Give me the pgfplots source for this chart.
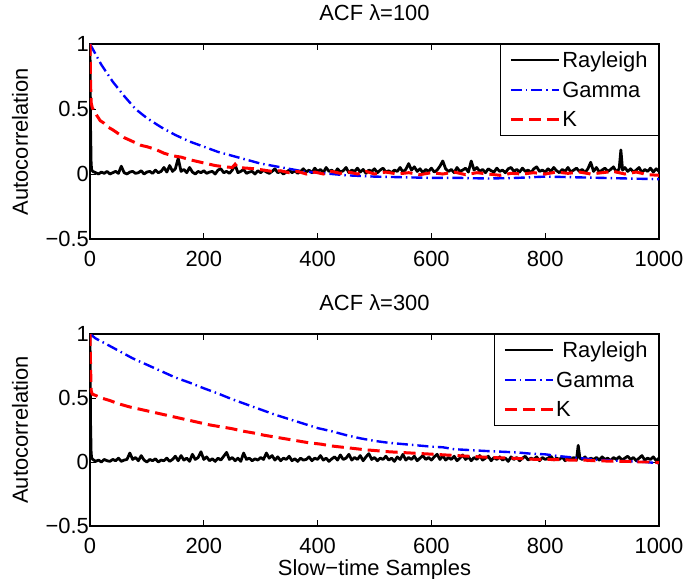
\documentclass[border=0pt]{standalone}
\usepackage{pgfplots}
\pgfplotsset{compat=1.18}
\usepackage{fontspec}
\setmainfont{Liberation Sans}
\newcommand{\myfontsz}{\fontsize{22}{26}\selectfont}
\pgfplotsset{
  acf/.style={
    scale only axis, width=569bp, height=195bp,
    xmin=0, xmax=1000, ymin=-0.5, ymax=1,
    xtick={0,200,400,600,800,1000},
    xticklabels={0,200,400,600,800,1000},
    ytick={-0.5,0,0.5,1},
    yticklabels={−0.5,0,0.5,1},
    tick align=inside, major tick length=6bp,
    axis line style={line width=1.2pt}, tick style={line width=0.8pt, black},
    tick label style={font=\myfontsz},
    xticklabel style={inner sep=1bp, yshift=-11bp},
    yticklabel style={inner sep=1bp},
    label style={font=\myfontsz},
    title style={font=\myfontsz, at={(axis description cs:0.5,1)}, anchor=base, yshift=18bp},
    ylabel={Autocorrelation},
    ylabel style={at={(axis description cs:-0.123,0.5)}, anchor=center},
    legend style={at={(1,1)}, anchor=north east, font=\myfontsz, draw=black, line width=0.8pt,
      legend cell align=left, row sep=9bp, inner xsep=9bp, inner ysep=5bp},
    legend image code/.code={\draw[#1] (0bp,0bp) -- (48bp,0bp);},
  },
  ray/.style={black, line width=2.8pt, line join=round},
  gam/.style={blue, line width=2.4pt, dash pattern=on 11bp off 4bp on 1.5bp off 4bp},
  kk/.style={red, line width=3pt, dash pattern=on 12bp off 6bp},
}
\begin{document}
\begin{tikzpicture}
\useasboundingbox (-90bp,-340bp) rectangle (596bp,239bp);
% ---------------- top ----------------
\begin{axis}[acf, at={(0,0)}, anchor=south west, title={ACF λ=100}]
\addplot[ray] coordinates {(0,1)(1,0.35)(2,0.08)(3,0.03)(5,0.02)(10,0.01)(15,0.0)(20,0.015)(25,0.005)(30,0.02)(35,0.0)(40,0.01)(45,0.02)(50,0.005)(55,0.06)(60,0.01)(65,0.0)(70,0.015)(75,0.02)(80,0.005)(85,0.01)(90,0.025)(95,0.0)(100,0.015)(105,0.02)(110,0.005)(115,0.03)(120,0.01)(125,0.02)(130,0.05)(135,0.015)(140,0.065)(145,0.02)(150,0.04)(155,0.12)(160,0.02)(165,0.035)(170,0.01)(175,0.05)(180,0.015)(185,0.0)(190,0.02)(195,0.01)(200,0.025)(205,0.005)(210,0.015)(215,0.02)(220,0.0)(225,0.03)(230,0.04)(235,0.01)(240,0.02)(245,0.005)(250,0.03)(255,0.07)(260,0.01)(265,0.02)(270,0.035)(275,0.005)(280,0.015)(285,0.02)(290,0.0)(295,0.025)(300,0.01)(305,0.03)(310,0.015)(315,0.005)(320,0.02)(325,0.04)(330,0.01)(335,0.02)(340,0.0)(345,0.015)(350,0.03)(355,0.01)(360,0.025)(365,0.005)(370,0.02)(375,0.04)(380,0.015)(385,0.03)(390,0.01)(395,0.045)(400,0.02)(405,0.035)(410,0.01)(415,0.05)(420,0.02)(425,0.03)(430,0.005)(435,0.04)(440,0.015)(445,0.025)(450,0.05)(455,0.01)(460,0.03)(465,0.02)(470,0.045)(475,0.015)(480,0.035)(485,0.005)(490,0.03)(495,0.02)(500,0.04)(505,0.01)(510,0.03)(515,0.045)(520,0.015)(525,0.025)(530,0.01)(535,0.03)(540,0.02)(545,0.05)(550,0.015)(555,0.035)(560,0.08)(565,0.03)(570,0.055)(575,0.02)(580,0.04)(585,0.01)(590,0.035)(595,0.02)(600,0.045)(605,0.015)(610,0.03)(615,0.06)(620,0.1)(625,0.04)(630,0.02)(635,0.035)(640,0.01)(645,0.05)(650,0.02)(655,0.03)(660,0.045)(665,0.015)(670,0.1)(675,0.03)(680,0.05)(685,0.02)(690,0.035)(695,0.01)(700,0.04)(705,0.025)(710,0.015)(715,0.045)(720,0.02)(725,0.03)(730,0.01)(735,0.04)(740,0.05)(745,0.02)(750,0.035)(755,0.015)(760,0.045)(765,0.02)(770,0.03)(775,0.01)(780,0.04)(785,0.055)(790,0.02)(795,0.03)(800,0.015)(805,0.04)(810,0.02)(815,0.05)(820,0.025)(825,0.01)(830,0.035)(835,0.02)(840,0.05)(845,0.015)(850,0.03)(855,0.045)(860,0.02)(865,0.035)(870,0.01)(875,0.04)(880,0.09)(885,0.02)(890,0.05)(895,0.015)(900,0.03)(905,0.045)(910,0.02)(915,0.035)(920,0.055)(925,0.015)(930,0.04)(933,0.185)(936,0.03)(940,0.05)(945,0.02)(950,0.04)(955,0.015)(960,0.03)(965,0.05)(970,0.01)(975,0.035)(980,0.02)(985,0.045)(990,0.015)(995,0.04)(1000,0.02)};
\addlegendentry{Rayleigh}
\addplot[gam] coordinates {(0,1)(10,0.92)(20,0.84)(40,0.71)(60,0.6)(80,0.5)(100,0.43)(125,0.36)(150,0.3)(175,0.25)(200,0.21)(225,0.17)(250,0.14)(275,0.11)(300,0.08)(325,0.06)(350,0.04)(375,0.02)(400,0.01)(425,0.0)(450,-0.01)(475,-0.015)(500,-0.02)(550,-0.025)(600,-0.03)(650,-0.03)(700,-0.035)(750,-0.03)(800,-0.02)(850,-0.025)(900,-0.03)(950,-0.035)(1000,-0.04)};
\addlegendentry{Gamma}
\addplot[kk] coordinates {(0,1)(1,0.7)(2,0.55)(4,0.51)(8,0.48)(12,0.45)(18,0.41)(25,0.39)(32,0.36)(40,0.34)(50,0.31)(60,0.28)(70,0.26)(80,0.24)(90,0.22)(100,0.21)(115,0.19)(130,0.16)(145,0.14)(160,0.13)(175,0.11)(190,0.095)(205,0.08)(220,0.065)(235,0.056)(250,0.05)(255,0.075)(260,0.05)(275,0.045)(290,0.04)(305,0.03)(320,0.02)(335,0.025)(350,0.01)(365,0.02)(380,0.0)(395,0.015)(410,0.0)(425,0.02)(440,0.005)(455,0.015)(470,0.0)(485,0.02)(500,0.0)(520,0.015)(540,0.0)(560,0.01)(580,-0.005)(600,0.01)(620,0.0)(640,0.015)(660,-0.005)(680,0.01)(700,0.0)(720,-0.01)(740,0.005)(760,0.0)(780,0.01)(800,0.0)(820,0.015)(840,0.005)(860,0.015)(880,0.0)(900,0.01)(920,0.02)(940,0.0)(960,0.015)(980,-0.005)(1000,-0.01)};
\addlegendentry{K}
\end{axis}
% ---------------- bottom ----------------
\begin{axis}[acf, at={(0,-287bp)}, anchor=south west, height=192bp, title={ACF λ=300},
  xlabel={Slow−time Samples}, xlabel style={at={(axis description cs:0.5,0)}, anchor=base, yshift=-49bp}]
\addplot[ray] coordinates {(0,1)(1,0.3)(2,0.07)(3,0.03)(5,0.02)(10,0.005)(15,0.015)(20,0.0)(25,0.02)(30,0.01)(35,0.005)(40,0.02)(45,0.01)(50,0.03)(55,0.005)(60,0.015)(65,0.02)(70,0.07)(75,0.02)(80,0.035)(85,0.01)(90,0.05)(95,0.015)(100,0.0)(105,0.02)(110,0.01)(115,0.025)(120,0.0)(125,0.015)(130,0.01)(135,0.03)(140,0.005)(145,0.02)(150,0.045)(155,0.01)(160,0.05)(165,0.015)(170,0.03)(175,0.005)(180,0.06)(185,0.02)(190,0.035)(195,0.08)(200,0.02)(205,0.04)(210,0.01)(215,0.025)(220,0.005)(225,0.03)(230,0.015)(235,0.045)(240,0.075)(245,0.02)(250,0.035)(255,0.01)(260,0.03)(265,0.005)(270,0.07)(275,0.02)(280,0.03)(285,0.01)(290,0.025)(295,0.015)(300,0.035)(305,0.02)(310,0.07)(315,0.03)(320,0.05)(325,0.015)(330,0.04)(335,0.01)(340,0.03)(345,0.02)(350,0.045)(355,0.01)(360,0.025)(365,0.005)(370,0.03)(375,0.015)(380,0.02)(385,0.04)(390,0.01)(395,0.03)(400,0.02)(405,0.05)(410,0.015)(415,0.03)(420,0.005)(425,0.025)(430,0.04)(435,0.015)(440,0.055)(445,0.02)(450,0.03)(455,0.06)(460,0.015)(465,0.035)(470,0.02)(475,0.05)(480,0.01)(485,0.04)(490,0.065)(495,0.02)(500,0.035)(505,0.01)(510,0.03)(515,0.02)(520,0.045)(525,0.015)(530,0.03)(535,0.005)(540,0.04)(545,0.02)(550,0.06)(555,0.015)(560,0.035)(565,0.02)(570,0.045)(575,0.01)(580,0.03)(585,0.05)(590,0.02)(595,0.035)(600,0.015)(605,0.04)(610,0.06)(615,0.02)(620,0.05)(625,0.015)(630,0.035)(635,0.02)(640,0.045)(645,0.01)(650,0.03)(655,0.055)(660,0.02)(665,0.04)(670,0.01)(675,0.035)(680,0.02)(685,0.05)(690,0.015)(695,0.03)(700,0.045)(705,0.01)(710,0.035)(715,0.02)(720,0.04)(725,0.015)(730,0.03)(735,0.005)(740,0.04)(745,0.02)(750,0.035)(755,0.01)(760,0.03)(765,0.045)(770,0.015)(775,0.03)(780,0.02)(785,0.04)(790,0.01)(795,0.035)(800,0.02)(805,0.03)(810,0.045)(815,0.015)(820,0.03)(825,0.02)(830,0.04)(835,0.01)(840,0.03)(845,0.02)(850,0.035)(855,0.015)(858,0.13)(861,0.03)(865,0.02)(870,0.04)(875,0.01)(880,0.03)(885,0.02)(890,0.035)(895,0.015)(900,0.04)(905,0.02)(910,0.03)(915,0.01)(920,0.035)(925,0.02)(930,0.04)(935,0.015)(940,0.03)(945,0.045)(950,0.02)(955,0.035)(960,0.01)(965,0.03)(970,0.05)(975,0.015)(980,0.03)(985,0.02)(990,0.04)(995,0.01)(1000,0.03)};
\addlegendentry{\ Rayleigh}
\addplot[gam] coordinates {(0,1)(10,0.965)(25,0.93)(50,0.87)(75,0.81)(100,0.76)(125,0.71)(150,0.66)(175,0.62)(200,0.576)(225,0.535)(250,0.49)(275,0.45)(300,0.41)(325,0.37)(350,0.335)(375,0.3)(400,0.265)(425,0.24)(450,0.21)(475,0.185)(500,0.165)(525,0.15)(550,0.14)(575,0.13)(600,0.12)(620,0.115)(640,0.1)(660,0.095)(680,0.09)(700,0.085)(725,0.08)(750,0.075)(775,0.065)(800,0.06)(825,0.045)(850,0.035)(875,0.025)(900,0.015)(925,0.01)(950,0.005)(975,0.0)(1000,-0.01)};
\addlegendentry{Gamma}
\addplot[kk] coordinates {(0,1)(1,0.75)(2,0.56)(4,0.53)(10,0.52)(20,0.5)(35,0.48)(50,0.455)(70,0.43)(90,0.41)(110,0.39)(130,0.37)(150,0.35)(170,0.33)(190,0.31)(210,0.29)(230,0.275)(250,0.26)(270,0.24)(290,0.225)(305,0.21)(325,0.195)(345,0.18)(365,0.165)(385,0.15)(405,0.14)(425,0.125)(445,0.115)(465,0.105)(485,0.095)(505,0.088)(525,0.08)(545,0.075)(565,0.07)(585,0.065)(605,0.06)(625,0.055)(645,0.05)(665,0.045)(685,0.04)(705,0.035)(725,0.032)(745,0.029)(765,0.025)(785,0.02)(805,0.02)(825,0.018)(845,0.015)(865,0.016)(885,0.01)(905,0.008)(925,0.005)(945,0.005)(965,0.0)(985,0.0)(1000,-0.005)};
\addlegendentry{K}
\end{axis}
\end{tikzpicture}
\end{document}
